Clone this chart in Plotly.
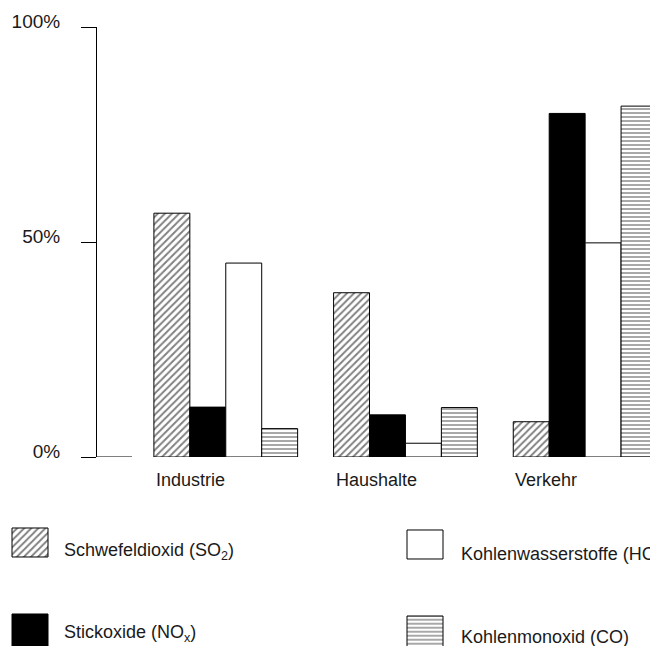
import plotly.graph_objects as go

# ---- data ----
categories = ["Industrie", "Haushalte", "Verkehr"]
series_names = ["Schwefeldioxid (SO<sub>2</sub>)", "Stickoxide (NO<sub>x</sub>)",
                "Kohlenwasserstoffe (HC)", "Kohlenmonoxid (CO)"]
so2 = [56.7, 38.2, 8.2]
nox = [11.6, 9.8, 79.9]
hc = [45.1, 3.2, 49.8]
co = [6.6, 11.5, 81.6]
tick_vals = [0, 50, 100]
tick_text = ["0%", "50%", "100%"]

# the page body has an 8px margin; the figure is sized to fill the rest of the window
OFF = 8
W, H = 658 - OFF, 646 - OFF
FONT = "Liberation Sans, Arial, sans-serif"
TXT = "#1a1a1a"


def px(x):
    return (x - OFF) / W


def py(y):
    return 1 - (y - OFF) / H


styles = [
    dict(color="white", line=dict(color="black", width=1),
         pattern=dict(shape="/", size=5, solidity=0.38, fgcolor="black", bgcolor="white")),
    dict(color="black", line=dict(color="black", width=1)),
    dict(color="white", line=dict(color="black", width=1)),
    dict(color="white", line=dict(color="black", width=1),
         pattern=dict(shape="-", size=4, solidity=0.34, fgcolor="black", bgcolor="white")),
]
values = [so2, nox, hc, co]
xpos = list(range(len(categories)))

fig = go.Figure()
for name, vals, st in zip(series_names, values, styles):
    fig.add_trace(go.Bar(x=xpos, y=vals, name=name, marker=st,
                         xaxis="x", yaxis="y", showlegend=False))

# legend swatches drawn on a pixel-space axis below the chart
LEG_DOM = 0.27
legend_pos = [  # (left px, top px, text x px, text y px) in window pixels
    (12, 528, 62, 551.5),
    (12, 614, 62, 633.5),
    (407, 530, 459, 554),
    (407, 616, 459, 637),
]
for name, st, (lx, ty, tx, tyy) in zip(series_names, styles, legend_pos):
    fig.add_trace(go.Bar(x=[lx], y=[29 if ty < 600 else 40], base=[ty], width=[36], offset=0,
                         marker=st, xaxis="x2", yaxis="y2", showlegend=False,
                         hoverinfo="skip", cliponaxis=True))
    fig.add_annotation(text=name, xref="paper", yref="paper",
                       x=px(tx), y=py(tyy), xanchor="left", yanchor="middle",
                       showarrow=False, font=dict(family=FONT, size=18, color=TXT))

# category labels, left-aligned at group start
for i, c in enumerate(categories):
    fig.add_annotation(text=c, xref="x", yref="paper", x=i - 0.4, y=py(480),
                       xanchor="left", yanchor="middle", showarrow=False,
                       font=dict(family=FONT, size=18, color=TXT))

# short baseline segment at 0%
fig.add_shape(type="line", xref="x domain", yref="y", x0=0, x1=35 / 561, y0=0, y1=0,
              line=dict(color="black", width=1))

fig.update_layout(
    width=W, height=H,
    margin=dict(l=0, r=0, t=0, b=0, pad=0),
    paper_bgcolor="white", plot_bgcolor="rgba(0,0,0,0)",
    barmode="group", bargap=0.2, bargroupgap=0,
    xaxis=dict(domain=[px(97), 1], range=[(97 - 226) / 180, (659 - 226) / 180],
               showticklabels=False, showline=False, showgrid=False, zeroline=False,
               ticks="", automargin=False),
    yaxis=dict(domain=[py(457), py(27)], range=[0, 100],
               tickvals=tick_vals, ticktext=tick_text, ticks="outside", ticklen=15,
               tickwidth=1, tickcolor="black", showline=True, linecolor="black",
               linewidth=1, showgrid=False, zeroline=False, automargin=False,
               ticklabelstandoff=17, ticklabelshift=-6,
               tickfont=dict(family=FONT, size=19, color=TXT)),
    xaxis2=dict(domain=[0, 1], range=[OFF, 658], visible=False, anchor="y2",
                automargin=False),
    yaxis2=dict(domain=[0, LEG_DOM], range=[646, 646 - LEG_DOM * H], visible=False,
                anchor="x2", automargin=False),
    font=dict(family=FONT, color=TXT),
)

fig.write_html("out.html")
